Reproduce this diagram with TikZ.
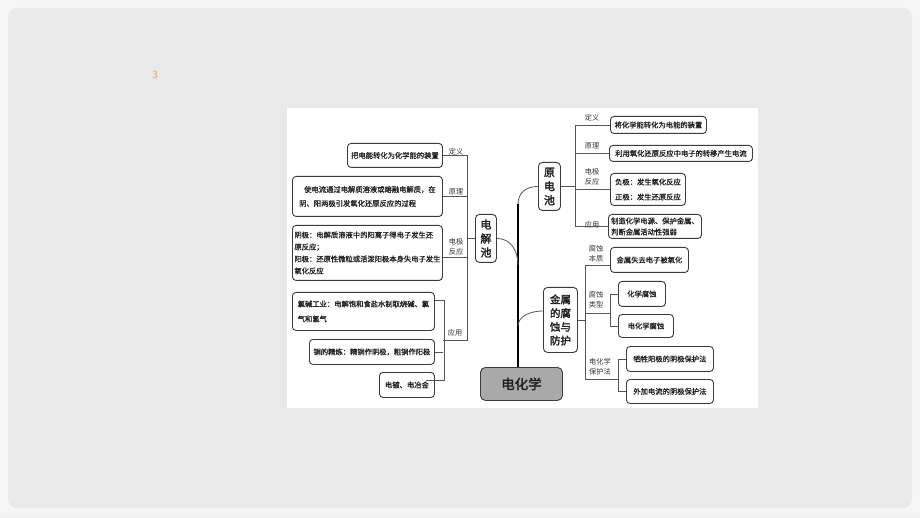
\documentclass[tikz,border=0pt]{standalone}
\usepackage{fontspec}
\usetikzlibrary{calc}
\newfontfamily\cjk[FakeBold=0.9]{Noto Sans CJK SC}
\newfontfamily\cjkl{Noto Sans CJK SC}
\newfontfamily\cjkb[FakeBold=2.2]{Noto Sans CJK SC}
\definecolor{slidebg}{HTML}{E9E9E9}
\definecolor{outerbg}{HTML}{F6F6F6}
\definecolor{boxline}{HTML}{3C3C3C}
\definecolor{connline}{HTML}{555555}
\definecolor{hubfill}{HTML}{A9A9A9}
\definecolor{txt}{HTML}{202020}
\definecolor{labtxt}{HTML}{333333}
\definecolor{numor}{HTML}{E89A50}
\tikzset{
  leaf/.style={draw=boxline, line width=0.9pt, rounded corners=3.5pt, fill=white, text=txt,
    inner sep=0pt, align=left, anchor=north west, font=\cjk\fontsize{7.3}{12}\selectfont},
  hub/.style={draw=boxline, line width=0.9pt, rounded corners=4pt, fill=white, text=txt,
    inner sep=0pt, align=center, anchor=north west, font=\cjkb\fontsize{11}{14}\selectfont},
  lab/.style={inner sep=0pt, align=center, text=labtxt, font=\cjkl\fontsize{7.2}{10}\selectfont},
  conn/.style={draw=connline, line width=0.7pt},
  trunkline/.style={draw=black, line width=2.8pt},
  curve/.style={draw=connline, line width=0.8pt}
}
\begin{document}
\begin{tikzpicture}[x=1pt,y=-1pt]
\useasboundingbox (0,0) rectangle (920,518);
\fill[outerbg] (0,0) rectangle (920,518);
\fill[slidebg, rounded corners=9pt] (8,8) rectangle (912,508);
\fill[slidebg!60!white] (0,513) rectangle (920,518);
\node[text=numor, font=\sffamily\fontsize{11}{13}\selectfont] (num) at (155,75) {3};
\fill[white] (287,108) rectangle (758,408);

% hubs
\node[hub, minimum width=21pt, minimum height=48pt] (dj) at (475,214) {电\\解\\池};
\node[hub, minimum width=22pt, minimum height=48pt] (yd) at (538,162) {原\\电\\池};
\node[hub, minimum width=34pt, minimum height=65pt, font=\cjkb\fontsize{10.5}{13.7}\selectfont] (js) at (543,287) {金属\\的腐\\蚀与\\防护};
\node[hub, fill=hubfill, rounded corners=5pt, minimum width=82pt, minimum height=33pt, font=\cjkb\fontsize{13.5}{16}\selectfont] (dhx) at (480,367) {电化学};

% left leaves
\node[leaf, minimum width=95pt, minimum height=24pt] (ld1) at (347,143) {把电能转化为化学能的装置};
\node[leaf, minimum width=150pt, minimum height=40pt] (ld2) at (292,176) {\hspace{5pt}使电流通过电解质溶液或熔融电解质，在\\[2pt]阴、阳两极引发氧化还原反应的过程};
\node[leaf, minimum width=150pt, minimum height=55pt] (ld3) at (292,225) {阴极：电解质溶液中的阳离子得电子发生还\\原反应；\\阳极：还原性微粒或活泼阳极本身失电子发生\\氧化反应};
\node[leaf, minimum width=142pt, minimum height=38pt] (la1) at (292,292) {氯碱工业：电解饱和食盐水制取烧碱、氯\\[3pt]气和氢气};
\node[leaf, minimum width=125pt, minimum height=25pt] (la2) at (309,339) {铜的精炼：精铜作阴极，粗铜作阳极};
\node[leaf, minimum width=55pt, minimum height=25pt] (la3) at (379,372) {电镀、电冶金};

% right upper leaves
\node[leaf, minimum width=96pt, minimum height=17pt] (rd1) at (610,116) {将化学能转化为电能的装置};
\node[leaf, minimum width=143pt, minimum height=16pt] (rd2) at (609,145) {利用氧化还原反应中电子的转移产生电流};
\node[leaf, minimum width=75pt, minimum height=32pt] (rd3) at (610,173) {负极：发生氧化反应\\[3pt]正极：发生还原反应};
\node[leaf, minimum width=93pt, minimum height=24pt] (rd4) at (608,214) {制造化学电源、保护金属、\\[-1pt]判断金属活动性强弱};

% right lower leaves
\node[leaf, minimum width=78pt, minimum height=25pt] (rs1) at (610,247) {金属失去电子被氧化};
\node[leaf, minimum width=47pt, minimum height=25pt] (rs2) at (618,281) {化学腐蚀};
\node[leaf, minimum width=55pt, minimum height=23pt] (rs3) at (618,314) {电化学腐蚀};
\node[leaf, minimum width=87pt, minimum height=25pt] (rs4) at (626,346) {牺牲阳极的阴极保护法};
\node[leaf, minimum width=87pt, minimum height=24pt] (rs5) at (626,379) {外加电流的阴极保护法};

% labels
\node[lab] (l1) at (456,152) {定义};
\node[lab] (l2) at (456,192) {原理};
\node[lab] (l3) at (456,247) {电极\\反应};
\node[lab] (l4) at (455,333) {应用};
\node[lab] (r1) at (592,118) {定义};
\node[lab] (r2) at (592,146) {原理};
\node[lab] (r3) at (592,177) {电极\\反应};
\node[lab] (r4) at (592,225) {应用};
\node[lab] (s1) at (596,254) {腐蚀\\本质};
\node[lab] (s2) at (596,300) {腐蚀\\类型};
\node[lab] (s3) at (600,367) {电化学\\保护法};

% trunk and curves
\coordinate (TT) at (518,204);
\coordinate (T2) at (518,265);
\coordinate (T3) at (518,326);
\draw[trunkline] (TT) -- (TT |- dhx.north);
\draw[curve] (TT) .. controls +(0,-11) and +(-12,0) .. (yd.west);
\draw[curve] (dj.east) .. controls +(14,0) and +(0,-14) .. (T2);
\draw[curve] (T3) .. controls +(0,-10) and +(-12,0) .. ($(js.west)+(0,-9)$);

% left connectors
\coordinate (LV) at (467,0);
\coordinate (LA) at (467,340);
\coordinate (LB) at (443,340);
\draw[conn] (ld1.east) -- (ld1.east -| LV) -- (LA) -- (LB);
\draw[conn] (ld2.east) -- (ld2.east -| LV);
\draw[conn] ($(ld3.east)+(0,4)$) -- ($(ld3.east -| LV)+(0,4)$);
\draw[conn] (dj.west) -- (dj.west -| LV);
\draw[conn] ($(la1.north east)+(0,8)$) -- ++(9,0) |- ($(la3.east)+(0,-4.5)$) -- ++(-9,0);
\draw[conn] (la2.east) -- (la2.east -| LB);

% right upper connectors
\coordinate (RV) at (575,0);
\draw[conn] (rd1.west) -- (rd1.west -| RV) -- (rd4.west -| RV) -- (rd4.west);
\draw[conn] (rd2.west) -- (rd2.west -| RV);
\draw[conn] (rd3.west) -- (rd3.west -| RV);
\draw[conn] (yd.east) -- (yd.east -| RV);

% right lower connectors
\coordinate (SV) at (585,0);
\coordinate (B1) at (610,313);
\coordinate (B2) at (618,379);
\draw[conn] ($(rs1.west)+(0,5)$) -- ($(rs1.west -| SV)+(0,5)$) -- (B2 -| SV) -- (B2);
\draw[conn] (B1 -| SV) -- (B1);
\draw[conn] (rs2.west) -- ++(-8,0) |- (rs3.west);
\draw[conn] (rs4.west) -- ++(-8,0) |- (rs5.west);
\draw[conn] (js.east) -- (js.east -| SV);
\end{tikzpicture}
\end{document}
